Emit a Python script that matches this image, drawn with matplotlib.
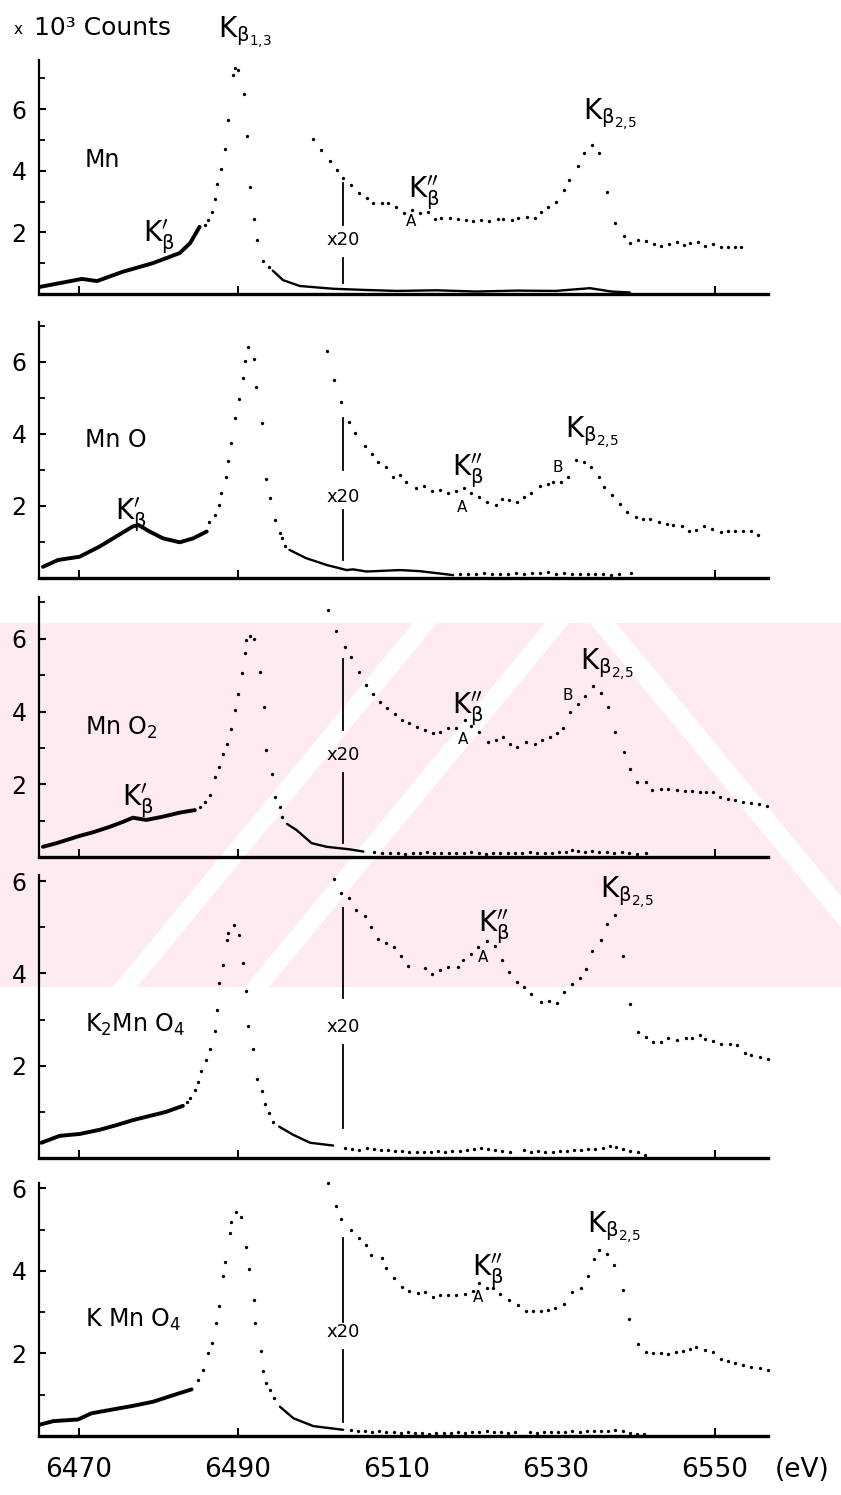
import matplotlib
matplotlib.use("Agg")
import matplotlib.pyplot as plt
from matplotlib.lines import Line2D
from matplotlib.patches import Polygon, Rectangle

# ---- data (energy in eV, counts in 10^3) ----
# Mn
mn_low_e = [6465.1, 6470.4, 6472.3, 6475.5, 6479.3, 6482.7, 6484.0, 6485.2]
mn_low_y = [0.23, 0.49, 0.42, 0.72, 1.00, 1.33, 1.65, 2.18]
mn_peak_e = [6485.9, 6486.3, 6486.7, 6487.1, 6487.4, 6487.9, 6488.4, 6488.8, 6489.4, 6489.7,
             6490.0, 6490.8, 6491.2, 6491.5, 6492.1, 6492.4, 6493.2, 6493.9]
mn_peak_y = [2.24, 2.40, 2.65, 3.08, 3.56, 4.06, 4.70, 5.65, 7.11, 7.35,
             7.27, 6.49, 5.13, 3.48, 2.43, 1.75, 1.08, 0.89]
mn_tail_e = [6494.4, 6495.7, 6497.8, 6502.0, 6506.2, 6510.0, 6515.0, 6520.0, 6525.0, 6530.0,
             6534.3, 6537.0, 6539.3]
mn_tail_y = [0.76, 0.45, 0.26, 0.17, 0.13, 0.10, 0.12, 0.08, 0.11, 0.10, 0.19, 0.08, 0.05]
mn_x20_e = [6499.5, 6500.5, 6501.6, 6502.5, 6503.3, 6504.3, 6505.3, 6506.2, 6507.0, 6508.1,
            6508.9, 6509.9, 6510.9, 6511.9, 6512.9, 6513.9, 6514.8, 6515.6, 6516.7, 6517.7,
            6518.7, 6519.6, 6520.6, 6521.6, 6522.7, 6523.4, 6524.5, 6525.3, 6526.4, 6527.4,
            6528.1, 6529.0, 6530.0, 6531.0, 6531.7, 6532.8, 6533.6, 6534.5, 6535.5, 6536.5,
            6537.5, 6538.6, 6539.3, 6540.3, 6541.3, 6542.3, 6543.2, 6544.2, 6545.2, 6546.1,
            6546.9, 6547.9, 6548.8, 6549.8, 6550.8, 6551.7, 6552.5, 6553.3]
mn_x20_y = [5.05, 4.68, 4.33, 4.03, 3.76, 3.54, 3.27, 3.11, 2.96, 2.96,
            2.94, 2.83, 2.62, 2.73, 2.62, 2.65, 2.43, 2.46, 2.46, 2.43,
            2.40, 2.38, 2.40, 2.38, 2.43, 2.43, 2.40, 2.48, 2.49, 2.46,
            2.65, 2.84, 3.00, 3.38, 3.70, 4.17, 4.57, 4.84, 4.57, 3.32,
            2.29, 1.89, 1.65, 1.77, 1.72, 1.62, 1.56, 1.62, 1.68, 1.59,
            1.67, 1.68, 1.56, 1.61, 1.54, 1.54, 1.54, 1.54]

# MnO
mno_low_e = [6465.5, 6467.4, 6470.1, 6472.6, 6474.7, 6476.8, 6477.5, 6478.9, 6480.6, 6482.7,
             6484.4, 6486.1]
mno_low_y = [0.31, 0.50, 0.59, 0.87, 1.15, 1.43, 1.47, 1.29, 1.10, 0.99, 1.10, 1.29]
mno_peak_e = [6486.4, 6487.1, 6487.6, 6487.9, 6488.5, 6488.8, 6489.2, 6489.7, 6490.2, 6490.7,
              6490.9, 6491.3, 6492.0, 6492.35, 6493.05, 6493.6, 6494.0, 6494.7, 6495.3, 6495.6,
              6496.0]
mno_peak_y = [1.55, 1.75, 2.03, 2.35, 2.81, 3.25, 3.74, 4.44, 4.96, 5.56,
              6.01, 6.41, 6.06, 5.31, 4.31, 2.75, 2.21, 1.61, 1.24, 1.10,
              0.90]
mno_tail_e = [6496.5, 6498.6, 6501.2, 6503.7, 6504.5, 6506.2, 6510.4, 6512.9, 6517.1]
mno_tail_y = [0.78, 0.55, 0.36, 0.22, 0.24, 0.18, 0.22, 0.19, 0.08]
mno_base_e = [6518.0, 6519.0, 6520.0, 6521.0, 6522.0, 6523.0, 6524.0, 6525.0, 6526.0, 6527.0,
              6528.0, 6529.0, 6530.0, 6531.0, 6532.0, 6533.0, 6534.0, 6535.0, 6536.0, 6537.0,
              6538.0, 6539.5]
mno_base_y = [0.10, 0.12, 0.10, 0.13, 0.11, 0.12, 0.10, 0.14, 0.12, 0.13,
              0.15, 0.18, 0.12, 0.13, 0.11, 0.12, 0.12, 0.10, 0.11, 0.09,
              0.10, 0.13]
mno_x20_e = [6501.2, 6502.1, 6503.0, 6504.0, 6504.8, 6506.0, 6506.9, 6507.7, 6508.7, 6509.5,
             6510.4, 6511.2, 6512.4, 6513.4, 6514.4, 6515.5, 6516.5, 6517.4, 6518.4, 6519.3,
             6520.4, 6521.3, 6522.5, 6523.2, 6524.1, 6525.1, 6526.0, 6526.9, 6528.0, 6529.0,
             6529.7, 6530.7, 6531.6, 6532.5, 6533.6, 6534.4, 6535.4, 6536.1, 6537.1, 6538.1,
             6539.0, 6540.1, 6541.0, 6541.9, 6543.0, 6544.0, 6544.8, 6545.9, 6546.8, 6547.7,
             6548.6, 6549.7, 6550.8, 6551.7, 6552.6, 6553.6, 6554.5, 6555.4]
mno_x20_y = [6.29, 5.48, 4.88, 4.32, 4.02, 3.65, 3.44, 3.21, 3.09, 2.79,
             2.86, 2.66, 2.49, 2.54, 2.42, 2.44, 2.37, 2.40, 2.49, 2.35,
             2.26, 2.12, 2.03, 2.19, 2.17, 2.12, 2.26, 2.37, 2.56, 2.61,
             2.67, 2.66, 2.81, 3.28, 3.21, 3.09, 2.81, 2.51, 2.29, 2.06,
             1.83, 1.69, 1.64, 1.63, 1.56, 1.49, 1.47, 1.43, 1.31, 1.33,
             1.43, 1.36, 1.27, 1.29, 1.31, 1.29, 1.29, 1.18]

# MnO2
mno2_low_e = [6465.5, 6467.2, 6470.1, 6471.8, 6473.9, 6475.6, 6476.8, 6478.5, 6480.6, 6482.7,
              6484.6]
mno2_low_y = [0.28, 0.38, 0.58, 0.68, 0.83, 0.97, 1.08, 1.02, 1.11, 1.22, 1.29]
mno2_peak_e = [6485.2, 6485.85, 6486.5, 6487.1, 6487.7, 6488.2, 6488.65, 6489.2, 6489.6, 6490.0,
               6490.5, 6490.9, 6491.1, 6491.5, 6492.1, 6492.8, 6493.3, 6493.6, 6494.3, 6494.7,
               6495.3, 6495.6]
mno2_peak_y = [1.38, 1.52, 1.70, 2.19, 2.48, 2.82, 3.10, 3.51, 4.04, 4.47,
               5.07, 5.60, 5.96, 6.08, 5.99, 5.09, 4.13, 2.94, 2.27, 1.64,
               1.37, 1.11]
mno2_tail_e = [6496.2, 6497.4, 6499.3, 6501.2, 6504.1, 6505.8]
mno2_tail_y = [0.91, 0.74, 0.38, 0.28, 0.21, 0.15]
mno2_base_e = [6507.2, 6508.2, 6509.2, 6510.1, 6511.0, 6512.0, 6512.9, 6513.8, 6514.7, 6515.6,
               6516.6, 6517.5, 6518.4, 6519.3, 6520.3, 6521.2, 6522.1, 6523.0, 6524.0, 6524.9,
               6525.8, 6526.7, 6527.7, 6528.6, 6529.5, 6530.4, 6531.3, 6532.0, 6532.8, 6533.7,
               6534.6, 6535.5, 6536.4, 6537.3, 6538.3, 6539.2, 6540.2, 6541.4]
mno2_base_y = [0.15, 0.12, 0.10, 0.11, 0.09, 0.12, 0.10, 0.13, 0.11, 0.10,
               0.12, 0.10, 0.11, 0.13, 0.10, 0.09, 0.11, 0.10, 0.12, 0.10,
               0.11, 0.13, 0.10, 0.12, 0.11, 0.14, 0.13, 0.18, 0.16, 0.15,
               0.17, 0.14, 0.15, 0.12, 0.13, 0.10, 0.09, 0.10]
mno2_x20_e = [6501.4, 6502.4, 6503.5, 6504.3, 6505.3, 6506.1, 6507.0, 6507.9, 6508.8, 6509.75,
              6510.7, 6511.5, 6512.5, 6513.6, 6514.6, 6515.5, 6516.5, 6517.4, 6518.6, 6519.3,
              6520.4, 6521.5, 6522.5, 6523.4, 6524.2, 6525.1, 6526.3, 6527.4, 6528.3, 6529.3,
              6530.2, 6530.9, 6531.8, 6532.8, 6533.7, 6534.7, 6535.7, 6536.6, 6537.5, 6538.6,
              6539.3, 6540.2, 6541.4, 6542.1, 6543.2, 6544.1, 6545.2, 6546.2, 6547.2, 6548.1,
              6548.9, 6549.8, 6550.6, 6551.7, 6552.6, 6553.6, 6554.6, 6555.6, 6556.6]
mno2_x20_y = [6.79, 6.21, 5.78, 5.50, 5.09, 4.74, 4.48, 4.27, 4.09, 3.92,
              3.78, 3.69, 3.58, 3.49, 3.40, 3.43, 3.55, 3.55, 3.76, 3.61,
              3.44, 3.17, 3.21, 3.31, 3.10, 3.03, 3.17, 3.12, 3.21, 3.29,
              3.40, 3.56, 3.99, 4.20, 4.42, 4.70, 4.51, 4.13, 3.44, 2.88,
              2.41, 2.05, 2.05, 1.84, 1.87, 1.86, 1.84, 1.81, 1.81, 1.79,
              1.79, 1.78, 1.64, 1.59, 1.57, 1.52, 1.49, 1.47, 1.40]

# K2MnO4
k2_low_e = [6465.3, 6467.6, 6470.1, 6472.6, 6474.7, 6476.8, 6478.9, 6481.0, 6483.1]
k2_low_y = [0.33, 0.48, 0.52, 0.61, 0.71, 0.82, 0.91, 1.00, 1.13]
k2_peak_e = [6483.6, 6484.05, 6484.6, 6485.0, 6485.4, 6486.05, 6486.55, 6487.1, 6487.4, 6487.7,
             6488.2, 6488.7, 6488.8, 6489.5, 6490.1, 6490.7, 6491.0, 6491.3, 6491.9, 6492.4,
             6493.0, 6493.4, 6493.9, 6494.4]
k2_peak_y = [1.21, 1.31, 1.47, 1.64, 1.89, 2.12, 2.37, 2.76, 3.20, 3.79,
             4.18, 4.73, 4.88, 5.04, 4.84, 4.23, 3.61, 2.86, 2.36, 1.71,
             1.45, 1.18, 0.97, 0.77]
k2_tail_e = [6495.2, 6497.0, 6499.1, 6502.0]
k2_tail_y = [0.68, 0.50, 0.33, 0.27]
k2_base_e = [6503.5, 6504.4, 6505.3, 6506.2, 6507.1, 6508.0, 6508.9, 6509.8, 6510.7, 6511.6,
             6512.5, 6513.4, 6514.3, 6515.2, 6516.1, 6517.0, 6517.9, 6518.8, 6519.7, 6520.6,
             6521.5, 6522.4, 6523.3, 6524.2, 6526.0, 6526.9, 6527.8, 6528.7, 6529.6, 6530.5,
             6531.4, 6532.3, 6533.2, 6534.1, 6535.0, 6535.9, 6536.8, 6537.6, 6538.5, 6539.4,
             6540.3, 6541.2]
k2_base_y = [0.22, 0.20, 0.18, 0.21, 0.19, 0.17, 0.18, 0.16, 0.15, 0.13,
             0.14, 0.12, 0.13, 0.15, 0.14, 0.16, 0.15, 0.17, 0.19, 0.21,
             0.20, 0.17, 0.16, 0.13, 0.17, 0.14, 0.15, 0.13, 0.14, 0.16,
             0.15, 0.18, 0.17, 0.20, 0.19, 0.22, 0.27, 0.24, 0.20, 0.16,
             0.12, 0.06]
k2_x20_e = [6502.1, 6503.0, 6504.0, 6504.9, 6506.0, 6506.8, 6507.7, 6508.7, 6509.6, 6510.5,
            6511.4, 6513.5, 6514.4, 6515.4, 6516.5, 6517.7, 6518.3, 6519.4, 6520.2, 6521.3,
            6522.3, 6523.2, 6524.1, 6525.1, 6526.0, 6526.9, 6528.1, 6529.2, 6530.1, 6531.1,
            6532.0, 6533.1, 6533.85, 6534.6, 6535.7, 6536.45, 6537.5, 6538.5, 6539.3, 6540.35,
            6541.3, 6542.2, 6543.2, 6544.1, 6545.3, 6546.35, 6547.2, 6548.1, 6548.8, 6549.8,
            6550.8, 6551.9, 6552.8, 6553.8, 6554.6, 6555.7, 6556.7]
k2_x20_y = [6.04, 5.75, 5.63, 5.38, 5.24, 5.01, 4.74, 4.65, 4.56, 4.38,
            4.16, 4.11, 3.98, 4.07, 4.14, 4.14, 4.29, 4.41, 4.57, 4.70,
            4.59, 4.29, 4.02, 3.82, 3.71, 3.55, 3.37, 3.40, 3.36, 3.59,
            3.76, 3.90, 4.09, 4.49, 4.73, 5.06, 5.26, 4.38, 3.33, 2.72,
            2.63, 2.52, 2.52, 2.60, 2.55, 2.60, 2.60, 2.66, 2.57, 2.53,
            2.48, 2.48, 2.45, 2.28, 2.23, 2.19, 2.14]

# KMnO4
k_low_e = [6465.0, 6466.8, 6469.9, 6471.6, 6473.9, 6476.8, 6479.35, 6481.9, 6484.2]
k_low_y = [0.27, 0.36, 0.40, 0.55, 0.63, 0.73, 0.83, 0.99, 1.13]
k_peak_e = [6485.0, 6485.6, 6486.3, 6486.7, 6487.3, 6487.6, 6488.2, 6488.45, 6489.0, 6489.1,
            6489.75, 6490.4, 6491.0, 6491.4, 6492.0, 6492.2, 6492.9, 6493.2, 6493.5, 6494.0,
            6494.6]
k_peak_y = [1.36, 1.61, 2.00, 2.26, 2.73, 3.16, 3.88, 4.22, 4.91, 5.19,
            5.43, 5.30, 4.58, 4.04, 3.29, 2.73, 2.07, 1.58, 1.29, 1.11,
            0.91]
k_tail_e = [6495.3, 6497.0, 6499.5, 6503.25]
k_tail_y = [0.71, 0.43, 0.24, 0.15]
k_base_e = [6504.2, 6505.1, 6506.0, 6506.9, 6507.8, 6508.7, 6509.6, 6510.5, 6511.4, 6512.3,
            6513.2, 6514.1, 6515.0, 6515.9, 6516.8, 6517.7, 6518.6, 6519.5, 6520.4, 6521.3,
            6522.2, 6523.1, 6524.0, 6524.9, 6526.7, 6527.6, 6528.5, 6529.4, 6530.3, 6531.2,
            6532.1, 6533.0, 6533.9, 6534.8, 6535.7, 6536.6, 6537.5, 6538.4, 6539.3, 6540.2,
            6541.1]
k_base_y = [0.14, 0.12, 0.13, 0.10, 0.11, 0.09, 0.10, 0.08, 0.09, 0.07,
            0.08, 0.06, 0.07, 0.08, 0.07, 0.09, 0.08, 0.10, 0.09, 0.12,
            0.10, 0.09, 0.08, 0.09, 0.10, 0.08, 0.09, 0.10, 0.09, 0.10,
            0.11, 0.10, 0.11, 0.12, 0.11, 0.13, 0.15, 0.12, 0.07, 0.05,
            0.04]
k_x20_e = [6501.3, 6502.3, 6503.0, 6504.2, 6505.3, 6506.1, 6506.7, 6508.1, 6508.6, 6509.7,
           6510.7, 6511.6, 6512.7, 6513.5, 6514.6, 6515.5, 6516.5, 6517.5, 6518.6, 6519.6,
           6520.4, 6521.3, 6522.1, 6523.0, 6524.1, 6525.2, 6526.2, 6527.1, 6528.1, 6529.0,
           6529.9, 6531.0, 6532.0, 6533.2, 6534.0, 6534.8, 6535.5, 6536.45, 6537.3, 6538.4,
           6539.2, 6540.35, 6541.3, 6542.2, 6543.2, 6544.1, 6545.1, 6546.0, 6546.9, 6547.7,
           6548.8, 6549.8, 6550.75, 6551.7, 6552.6, 6553.55, 6554.6, 6555.65, 6556.7]
k_x20_y = [6.13, 5.57, 5.25, 5.00, 4.80, 4.62, 4.38, 4.32, 4.08, 3.82,
           3.62, 3.52, 3.46, 3.49, 3.37, 3.41, 3.41, 3.41, 3.43, 3.51,
           3.70, 3.59, 3.59, 3.43, 3.29, 3.17, 3.03, 3.03, 3.03, 3.05,
           3.09, 3.19, 3.48, 3.59, 3.87, 4.28, 4.50, 4.40, 4.14, 3.54,
           2.83, 2.22, 2.04, 2.02, 2.00, 1.98, 2.04, 2.07, 2.10, 2.15,
           2.08, 2.04, 1.86, 1.82, 1.78, 1.72, 1.68, 1.64, 1.60]

x_ticks = [6470, 6490, 6510, 6530, 6550]
y_ticks = [2, 4, 6]

# ---- layout (pixels of the 841x1495 canvas) ----
W, H = 841, 1495
X_LEFT, X_RIGHT = 39, 768
E_MIN, E_MAX = 6465.0, 6556.7
X20_PX = 343
BAND_TOP, BAND_BOT = 623, 987


def fx(px):
    return px / W


def fy(py):
    return 1 - py / H


panels = [
    dict(top=60, bottom=294, ymax=7.6, low=(mn_low_e, mn_low_y), peak=(mn_peak_e, mn_peak_y),
         tail=(mn_tail_e, mn_tail_y), base=None, x20=(mn_x20_e, mn_x20_y),
         name='Mn', name_y=160, vline=((183, 225), (258, 283)), x20_y=240,
         kb1=(143, 242), kb2=(408, 197), A=(411, 221), B=None, kb25=(583, 120)),
    dict(top=322, bottom=578, ymax=7.1, low=(mno_low_e, mno_low_y), peak=(mno_peak_e, mno_peak_y),
         tail=(mno_tail_e, mno_tail_y), base=(mno_base_e, mno_base_y), x20=(mno_x20_e, mno_x20_y),
         name='Mn O', name_y=440, vline=((418, 470), (510, 560)), x20_y=497,
         kb1=(115, 520), kb2=(452, 475), A=(462, 507), B=(558, 467), kb25=(565, 438)),
    dict(top=597, bottom=857, ymax=7.15, low=(mno2_low_e, mno2_low_y), peak=(mno2_peak_e, mno2_peak_y),
         tail=(mno2_tail_e, mno2_tail_y), base=(mno2_base_e, mno2_base_y), x20=(mno2_x20_e, mno2_x20_y),
         name='Mn O$_2$', name_y=728, vline=((659, 730), (773, 843)), x20_y=755,
         kb1=(122, 805), kb2=(452, 713), A=(463, 740), B=(568, 695), kb25=(580, 670)),
    dict(top=875, bottom=1158, ymax=6.13, low=(k2_low_e, k2_low_y), peak=(k2_peak_e, k2_peak_y),
         tail=(k2_tail_e, k2_tail_y), base=(k2_base_e, k2_base_y), x20=(k2_x20_e, k2_x20_y),
         name='K$_2$Mn O$_4$', name_y=1025, vline=((908, 998), (1045, 1128)), x20_y=1027,
         kb1=None, kb2=(478, 932), A=(483, 958), B=None, kb25=(600, 898)),
    dict(top=1183, bottom=1436, ymax=6.13, low=(k_low_e, k_low_y), peak=(k_peak_e, k_peak_y),
         tail=(k_tail_e, k_tail_y), base=(k_base_e, k_base_y), x20=(k_x20_e, k_x20_y),
         name='K Mn O$_4$', name_y=1320, vline=((1238, 1322), (1350, 1422)), x20_y=1332,
         kb1=None, kb2=(472, 1275), A=(478, 1297), B=None, kb25=(587, 1233)),
]

KB1 = r'$\mathrm{K}_{\mathrm{β}}^{\prime}$'
KB2 = r'$\mathrm{K}_{\mathrm{β}}^{\prime\prime}$'
KB13 = r'$\mathrm{K}_{\mathrm{β}_{1{,}3}}$'
KB25 = r'$\mathrm{K}_{\mathrm{β}_{2{,}5}}$'

plt.rcParams['font.family'] = ['DejaVu Sans']
plt.rcParams['mathtext.fontset'] = 'dejavusans'

fig = plt.figure(figsize=(W / 100, H / 100), dpi=100)
fig.patch.set_facecolor('white')

# faint pink watermark band of the scan
band = Rectangle((0, fy(BAND_BOT)), 1, fy(BAND_TOP) - fy(BAND_BOT), transform=fig.transFigure,
                 facecolor='#fdebef', edgecolor='none', zorder=-10)
fig.add_artist(band)


def white_stripe(x_top, x_bot, width):
    # white slanted strip crossing the whole band (pixel x at its top and bottom edge)
    poly = Polygon([(fx(x_top), fy(BAND_TOP)), (fx(x_top + width), fy(BAND_TOP)),
                    (fx(x_bot + width), fy(BAND_BOT)), (fx(x_bot), fy(BAND_BOT))],
                   closed=True, transform=fig.transFigure, facecolor='white',
                   edgecolor='none', zorder=-9)
    fig.add_artist(poly)
    poly.set_clip_path(band)


white_stripe(413, 113, 24)
white_stripe(545, 245, 24)
white_stripe(590, 890, 26)

DOT = dict(ls='none', marker='o', ms=2.4, color='black', mec='none', clip_on=False)

for i, p in enumerate(panels):
    ax = fig.add_axes([fx(X_LEFT), fy(p['bottom']), fx(X_RIGHT) - fx(X_LEFT),
                       (p['bottom'] - p['top']) / H])
    ax.patch.set_alpha(0)
    ax.set_xlim(E_MIN, E_MAX)
    ax.set_ylim(0, p['ymax'])
    for s in ['top', 'right']:
        ax.spines[s].set_visible(False)
    ax.spines['bottom'].set_linewidth(2.4)
    ax.spines['left'].set_linewidth(1.6)

    ax.plot(*p['low'], color='black', lw=2.8, solid_capstyle='round')
    ax.plot(*p['peak'], **DOT)
    ax.plot(*p['tail'], color='black', lw=1.7, solid_capstyle='round')
    if p['base'] is not None:
        ax.plot(*p['base'], **DOT)
    ax.plot(*p['x20'], **DOT)

    ax.set_yticks(y_ticks)
    ax.set_yticks([v for v in [1, 3, 5, 7] if v < p['ymax']], minor=True)
    ax.tick_params(axis='y', which='major', direction='in', length=5, width=1.5,
                   labelsize=17, pad=9)
    ax.tick_params(axis='y', which='minor', direction='in', length=4, width=1.3)
    ax.set_xticks(x_ticks)
    ax.tick_params(axis='x', which='major', direction='in', length=6, width=1.4,
                   labelsize=19, pad=15, labelbottom=(i == len(panels) - 1))
    for k in (2, 3):
        ax.xaxis.get_major_ticks()[k].tick1line.set_visible(False)

    # annotations
    fig.text(fx(85), fy(p['name_y']), p['name'], fontsize=17, ha='left', va='center')
    for y0, y1 in p['vline']:
        fig.add_artist(Line2D([fx(X20_PX)] * 2, [fy(y0), fy(y1)], color='black', lw=1.3))
    fig.text(fx(X20_PX), fy(p['x20_y']), 'x20', fontsize=13, ha='center', va='center')
    if p['kb1'] is not None:
        fig.text(fx(p['kb1'][0]), fy(p['kb1'][1]), KB1, fontsize=20, ha='left', va='baseline')
    fig.text(fx(p['kb2'][0]), fy(p['kb2'][1]), KB2, fontsize=20, ha='left', va='baseline')
    fig.text(fx(p['kb25'][0]), fy(p['kb25'][1]), KB25, fontsize=20, ha='left', va='baseline')
    fig.text(fx(p['A'][0]), fy(p['A'][1]), 'A', fontsize=11, ha='center', va='center')
    if p['B'] is not None:
        fig.text(fx(p['B'][0]), fy(p['B'][1]), 'B', fontsize=11, ha='center', va='center')

# header and unit labels
fig.text(fx(14), fy(30), 'x', fontsize=11, ha='left', va='center')
fig.text(fx(34), fy(28), '10³ Counts', fontsize=18, ha='left', va='center')
fig.text(fx(218), fy(38), KB13, fontsize=20, ha='left', va='baseline')
fig.text(fx(775), fy(1470), '(eV)', fontsize=19, ha='left', va='center')

fig.savefig('out.png', dpi=100)
